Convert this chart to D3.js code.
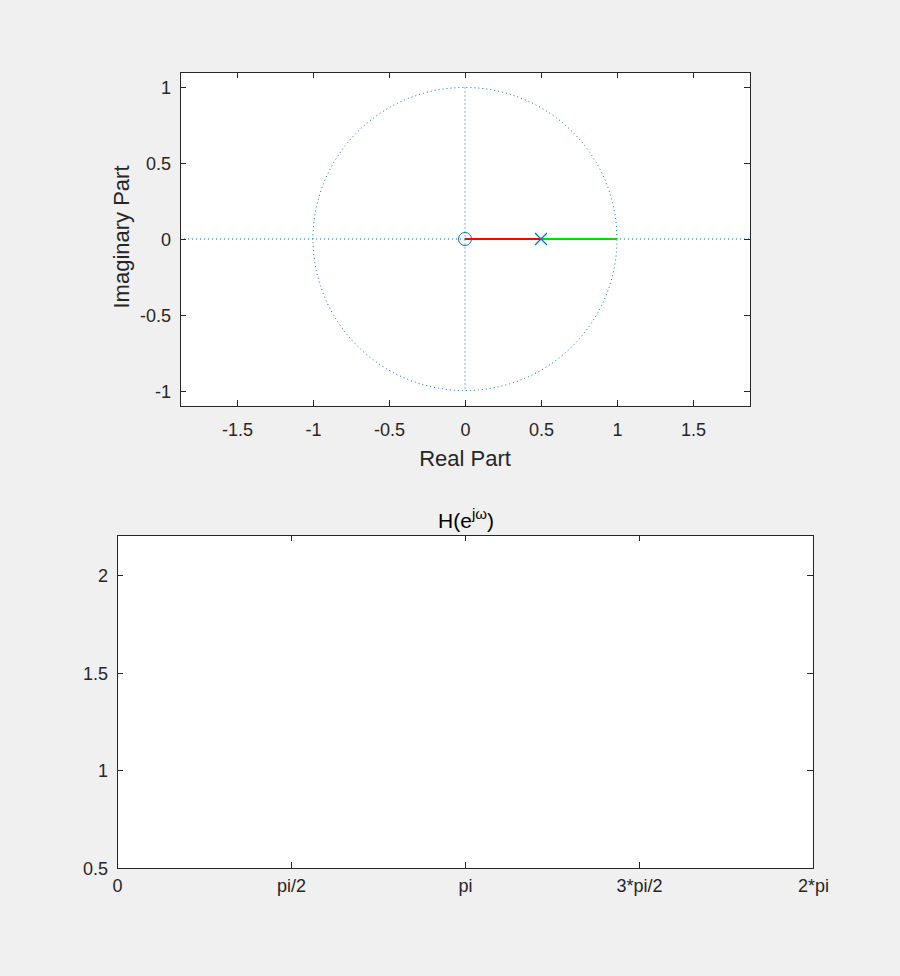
<!DOCTYPE html>
<html><head><meta charset="utf-8">
<script src="https://cdn.jsdelivr.net/npm/d3@7"></script>
<style>
body{margin:0;background:#f0f0f0;}
svg{display:block;font-family:"Liberation Sans",Arial,Helvetica,sans-serif;}
</style></head><body>
<svg id="c" width="900" height="976"></svg>
<script>
// ---- data ----
const zerosRe = [0];
const zerosIm = [0];
const polesRe = [0.5];
const polesIm = [0];
const redSegX = [0, 0.5];      // zero -> pole
const greenSegX = [0.5, 1];    // pole -> unit circle
const pzXTicks = [-1.5, -1, -0.5, 0, 0.5, 1, 1.5];
const pzYTicks = [-1, -0.5, 0, 0.5, 1];
const freqXTicks = [0, Math.PI/2, Math.PI, 3*Math.PI/2, 2*Math.PI];
const freqXLabels = ["0", "pi/2", "pi", "3*pi/2", "2*pi"];
const freqYTicks = [0.5, 1, 1.5, 2];

const svg = d3.select("#c");
const axisCol = "#262626";
const blue = "#0072BD";
const tickFont = 18;

function boxAxes(g, x, y, xt, yt, xfmt, yfmt, xOff) {
  const [x0, x1] = x.range(), [y0, y1] = y.range();
  g.append("rect").attr("x", x0).attr("y", y1).attr("width", x1 - x0).attr("height", y0 - y1)
    .attr("fill", "#fff");
  return () => {
    const L = 6;
    xt.forEach((t, i) => {
      const px = Math.round(x(t)) + 0.5;
      g.append("line").attr("x1", px).attr("x2", px).attr("y1", y0).attr("y2", y0 - L).attr("stroke", axisCol);
      g.append("line").attr("x1", px).attr("x2", px).attr("y1", y1).attr("y2", y1 + L).attr("stroke", axisCol);
      g.append("text").attr("x", px).attr("y", y0 + xOff).attr("text-anchor", "middle")
        .attr("font-size", tickFont).attr("fill", axisCol).text(xfmt(t, i));
    });
    yt.forEach((t, i) => {
      const py = Math.round(y(t)) + 0.5;
      g.append("line").attr("x1", x0).attr("x2", x0 + L).attr("y1", py).attr("y2", py).attr("stroke", axisCol);
      g.append("line").attr("x1", x1).attr("x2", x1 - L).attr("y1", py).attr("y2", py).attr("stroke", axisCol);
      g.append("text").attr("x", x0 - 9).attr("y", py + 6.5).attr("text-anchor", "end")
        .attr("font-size", tickFont).attr("fill", axisCol).text(yfmt(t, i));
    });
    g.append("rect").attr("x", x0 + 0.5).attr("y", y1 + 0.5).attr("width", x1 - x0).attr("height", y0 - y1)
      .attr("fill", "none").attr("stroke", axisCol).attr("stroke-width", 1);
  };
}

// ---- top: pole-zero plot ----
const x1s = d3.scaleLinear().domain([-1.875, 1.875]).range([180, 750]);
const y1s = d3.scaleLinear().domain([-1.102, 1.102]).range([406, 72]);
const g1 = svg.append("g");
const fin1 = boxAxes(g1, x1s, y1s, pzXTicks, pzYTicks, t => String(t), t => String(t), 30);

// dotted axes lines
g1.append("line").attr("x1", x1s(-1.875)).attr("x2", x1s(1.875)).attr("y1", y1s(0)).attr("y2", y1s(0))
  .attr("stroke", blue).attr("stroke-dasharray", "1,3").attr("stroke-width", 1);
g1.append("line").attr("x1", x1s(0)).attr("x2", x1s(0)).attr("y1", y1s(1)).attr("y2", y1s(-1))
  .attr("stroke", blue).attr("stroke-dasharray", "1,3").attr("stroke-width", 1);
// unit circle
const circPts = d3.range(0, 361, 1).map(a => [Math.cos(a * Math.PI / 180), Math.sin(a * Math.PI / 180)]);
g1.append("path").attr("d", d3.line().x(d => x1s(d[0])).y(d => y1s(d[1]))(circPts))
  .attr("fill", "none").attr("stroke", blue).attr("stroke-dasharray", "1,3").attr("stroke-width", 1);
// segments
g1.append("line").attr("x1", x1s(redSegX[0])).attr("x2", x1s(redSegX[1])).attr("y1", y1s(0)).attr("y2", y1s(0))
  .attr("stroke", "#ff0000").attr("stroke-width", 2);
g1.append("line").attr("x1", x1s(greenSegX[0])).attr("x2", x1s(greenSegX[1])).attr("y1", y1s(0)).attr("y2", y1s(0))
  .attr("stroke", "#00e000").attr("stroke-width", 2);
// zeros
zerosRe.forEach((r, i) => {
  g1.append("circle").attr("cx", x1s(r)).attr("cy", y1s(zerosIm[i])).attr("r", 6.5)
    .attr("fill", "none").attr("stroke", blue).attr("stroke-width", 1);
});
// poles
polesRe.forEach((r, i) => {
  const cx = x1s(r), cy = y1s(polesIm[i]), s = 6;
  g1.append("path").attr("d", `M${cx - s},${cy - s}L${cx + s},${cy + s}M${cx - s},${cy + s}L${cx + s},${cy - s}`)
    .attr("stroke", blue).attr("stroke-width", 1.2).attr("fill", "none");
});
fin1();
g1.append("text").attr("x", (180 + 750) / 2).attr("y", 466).attr("text-anchor", "middle")
  .attr("font-size", 22).attr("fill", axisCol).text("Real Part");
g1.append("text").attr("transform", `translate(129,237) rotate(-90)`).attr("text-anchor", "middle")
  .attr("font-size", 22).attr("fill", axisCol).text("Imaginary Part");

// ---- bottom: frequency response (empty) ----
const x2s = d3.scaleLinear().domain([0, 2 * Math.PI]).range([117, 813]);
const y2s = d3.scaleLinear().domain([0.5, 2.205]).range([868, 535]);
const g2 = svg.append("g");
const fin2 = boxAxes(g2, x2s, y2s, freqXTicks, freqYTicks, (t, i) => freqXLabels[i], t => String(t), 24);
fin2();
const title = g2.append("text").attr("x", 466).attr("y", 528).attr("text-anchor", "middle")
  .attr("font-size", 21).attr("fill", "#000");
title.append("tspan").text("H(e");
title.append("tspan").attr("dy", -9).attr("font-size", 15).text("jω");
title.append("tspan").attr("dy", 9).text(")");
</script>
</body></html>
